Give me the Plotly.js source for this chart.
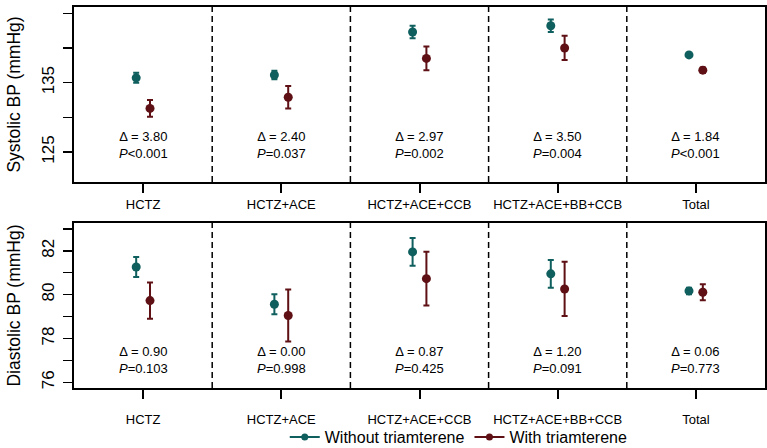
<!DOCTYPE html>
<html>
<head>
<meta charset="utf-8">
<script src="https://cdn.plot.ly/plotly-3.0.1.min.js"></script>
<style>html,body{margin:0;padding:0;background:#fff;}#chart{width:767px;height:448px;}</style>
</head>
<body>
<div id="chart"></div>
<script>
const categories = ["HCTZ", "HCTZ+ACE", "HCTZ+ACE+CCB", "HCTZ+ACE+BB+CCB", "Total"];
const catPos = [1, 2, 3, 4, 5];
const seriesNames = ["Without triamterene", "With triamterene"];

const sysWithout = [135.7, 136.1, 142.3, 143.2, 139.0];
const sysWithoutErr = [0.72, 0.62, 0.89, 0.91, 0.2];
const sysWith = [131.3, 132.9, 138.5, 140.0, 136.8];
const sysWithErr = [1.22, 1.63, 1.70, 1.75, 0.4];

const diaWithout = [81.26, 79.56, 81.95, 80.95, 80.17];
const diaWithoutErr = [0.46, 0.46, 0.63, 0.63, 0.15];
const diaWith = [79.73, 79.05, 80.73, 80.26, 80.11];
const diaWithErr = [0.83, 1.19, 1.23, 1.24, 0.37];

const sysDelta = ["3.80", "2.40", "2.97", "3.50", "1.84"];
const sysP = ["<0.001", "=0.037", "=0.002", "=0.004", "<0.001"];
const diaDelta = ["0.90", "0.00", "0.87", "1.20", "0.06"];
const diaP = ["=0.103", "=0.998", "=0.425", "=0.091", "=0.773"];

const sysTickVals = [125, 130, 135, 140, 145];
const sysTickText = ["125", "", "135", "", "145"];
const diaTickVals = [76, 77, 78, 79, 80, 81, 82, 83];
const diaTickText = ["76", "", "78", "", "80", "", "82", ""];

const colWithout = "#0f5f5e";
const colWith = "#5e1014";
const offset = 0.05;

function pts(vals, errs, color, sign, xa, ya) {
  return {
    type: "scatter", mode: "markers",
    x: catPos.map(p => p + sign * offset), y: vals,
    xaxis: xa, yaxis: ya, showlegend: false,
    marker: {color: color, size: 9},
    error_y: {type: "data", array: errs, visible: true, color: color, thickness: 2, width: 3},
    hoverinfo: "skip"
  };
}

const data = [
  pts(sysWithout, sysWithoutErr, colWithout, -1, "x", "y"),
  pts(sysWith, sysWithErr, colWith, 1, "x", "y"),
  pts(diaWithout, diaWithoutErr, colWithout, -1, "x2", "y2"),
  pts(diaWith, diaWithErr, colWith, 1, "x2", "y2"),
  {type: "scatter", mode: "lines+markers", x: [null], y: [null], name: seriesNames[0],
   line: {color: colWithout, width: 2}, marker: {color: colWithout, size: 7}},
  {type: "scatter", mode: "lines+markers", x: [null], y: [null], name: seriesNames[1],
   line: {color: colWith, width: 2}, marker: {color: colWith, size: 7}}
];

const font = {family: "Liberation Sans, Arial, sans-serif", color: "#000"};

const xBase = {
  range: [0.5, 5.5], tickvals: catPos, ticktext: categories,
  ticks: "outside", ticklen: 9, tickwidth: 2, tickcolor: "#000",
  showline: true, mirror: true, linewidth: 2, linecolor: "#000",
  showgrid: false, zeroline: false, tickfont: {size: 13}
};
const yBase = {
  ticks: "outside", ticklen: 9, tickwidth: 1.5, tickcolor: "#000",
  showline: true, mirror: true, linewidth: 2, linecolor: "#000",
  showgrid: false, zeroline: false, tickangle: -90, tickfont: {size: 17},
  ticklabelstandoff: 2
};

const shapes = [];
[1.5, 2.5, 3.5, 4.5].forEach(xv => {
  shapes.push({type: "line", xref: "x", yref: "y domain", x0: xv, x1: xv, y0: 0, y1: 1,
    line: {color: "#000", width: 1.5, dash: "6px,4px"}});
  shapes.push({type: "line", xref: "x2", yref: "y2 domain", x0: xv, x1: xv, y0: 0, y1: 1,
    line: {color: "#000", width: 1.5, dash: "6px,4px"}});
});

const annotations = [];
catPos.forEach((p, i) => {
  annotations.push({xref: "x", yref: "y", x: p, y: 126.0, yanchor: "middle", showarrow: false,
    text: "Δ = " + sysDelta[i] + "<br><i>P</i>" + sysP[i].replace("<", "&lt;"), font: {size: 13}});
  annotations.push({xref: "x2", yref: "y2", x: p, y: 77.0, yanchor: "middle", showarrow: false,
    text: "Δ = " + diaDelta[i] + "<br><i>P</i>" + diaP[i].replace("<", "&lt;"), font: {size: 13}});
});

const layout = {
  width: 767, height: 448,
  margin: {l: 74, r: 2, t: 7, b: 60, autoexpand: false},
  paper_bgcolor: "#fff", plot_bgcolor: "#fff",
  font: font,
  xaxis: Object.assign({}, xBase, {anchor: "y", ticklabelstandoff: 0}),
  xaxis2: Object.assign({}, xBase, {anchor: "y2", ticklabelstandoff: 9}),
  yaxis: Object.assign({}, yBase, {domain: [0.5407, 1], range: [120.7, 145.9],
    tickvals: sysTickVals, ticktext: sysTickText,
    title: {text: "Systolic BP (mmHg)", font: {size: 17.5}, standoff: 14}}),
  yaxis2: Object.assign({}, yBase, {domain: [0, 0.4331], range: [75.74, 83.27],
    tickvals: diaTickVals, ticktext: diaTickText,
    title: {text: "Diastolic BP (mmHg)", font: {size: 17.5}, standoff: 14}}),
  shapes: shapes,
  annotations: annotations,
  showlegend: true,
  legend: {orientation: "h", xref: "paper", x: 0.305, xanchor: "left",
    yref: "paper", y: -0.129, yanchor: "middle",
    font: {size: 16}, bgcolor: "rgba(0,0,0,0)", itemwidth: 30}
};

Plotly.newPlot("chart", data, layout, {displayModeBar: false, staticPlot: true});
</script>
</body>
</html>
